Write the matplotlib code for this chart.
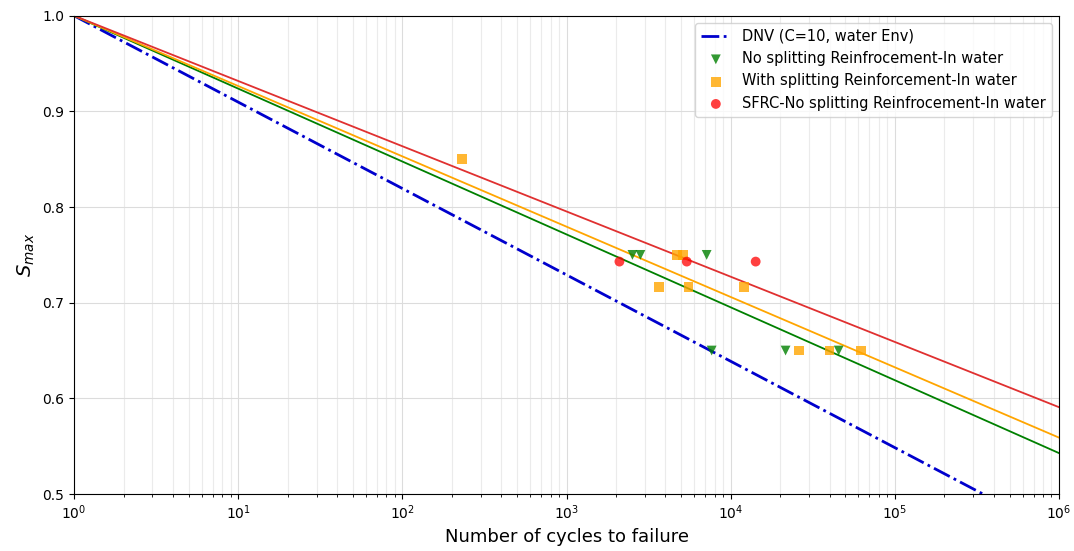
import numpy as np
import matplotlib
matplotlib.use("Agg")
import matplotlib.pyplot as plt

# S-N curves: S = 1 - b * log10(N)
curve_names = ["DNV (C=10, water Env)", "no_split_fit", "split_fit", "sfrc_fit"]
curve_slopes = [0.0903, 0.0762, 0.0735, 0.0682]

# test results (cycles, Smax)
no_split_N = [2520, 2820, 7140, 7660, 21600, 45500]
no_split_S = [0.75, 0.75, 0.75, 0.65, 0.65, 0.65]

split_N = [232, 4690, 5100, 3650, 5540, 12000, 26000, 40000, 61900]
split_S = [0.85, 0.75, 0.75, 0.7167, 0.7167, 0.7167, 0.65, 0.65, 0.65]

sfrc_N = [2100, 5400, 14200]
sfrc_S = [0.743, 0.743, 0.743]

fig = plt.figure(figsize=(10.74, 5.51), dpi=100)
ax = fig.add_axes([0.069, 0.1034, 0.917, 0.868])

N = np.logspace(0, 6, 400)
# DNV line
ax.plot(N, 1 - curve_slopes[0] * np.log10(N), '-.', color='mediumblue', lw=2,
        label=curve_names[0])
ax.plot(N, 1 - curve_slopes[1] * np.log10(N), '-', color='green', lw=1.3)
ax.plot(N, 1 - curve_slopes[2] * np.log10(N), '-', color='orange', lw=1.3)
ax.plot(N, 1 - curve_slopes[3] * np.log10(N), '-', color='#e03030', lw=1.3)

ax.scatter(no_split_N, no_split_S, marker='v', color='green', alpha=0.8, s=50,
           edgecolors='none', label="No splitting Reinfrocement-In water", zorder=3)
ax.scatter(split_N, split_S, marker='s', color='orange', alpha=0.8, s=50,
           edgecolors='none', label="With splitting Reinforcement-In water", zorder=3)
ax.scatter(sfrc_N, sfrc_S, marker='o', color='red', alpha=0.75, s=50,
           edgecolors='none', label="SFRC-No splitting Reinfrocement-In water", zorder=3)

ax.set_xscale('log')
ax.set_xlim(1, 1e6)
ax.set_ylim(0.5, 1.0)
ax.grid(True, which='major', color='#dcdcdc', lw=0.8)
ax.grid(True, which='minor', color='#ebebeb', lw=0.8)
ax.set_xlabel("Number of cycles to failure", fontsize=13)
ax.set_ylabel("$S_{max}$", fontsize=14)
ax.tick_params(labelsize=10)
ax.legend(loc='upper right', fontsize=10.5)

fig.savefig("out.png", dpi=100)
